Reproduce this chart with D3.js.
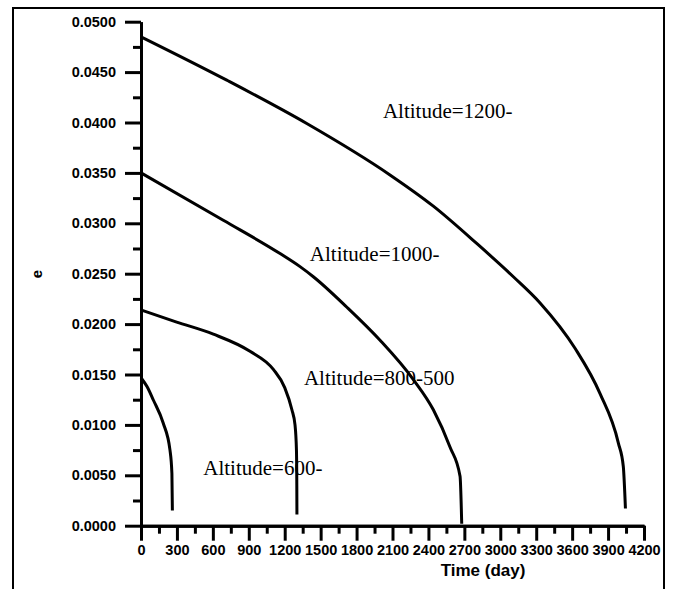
<!DOCTYPE html>
<html>
<head>
<meta charset="utf-8">
<script src="https://cdn.jsdelivr.net/npm/d3@7"></script>
<style>
  body { margin: 0; background: #fff; }
  .tick text { font-family: "Liberation Sans", Arial, sans-serif; font-weight: bold; font-size: 14.5px; fill: #000; }
  .note { font-family: "Liberation Serif", "Times New Roman", serif; font-size: 21px; fill: #000; }
</style>
</head>
<body>
<svg id="chart" width="673" height="589"></svg>
<script>
// e vs time for each altitude run (time in days)
var t600  = [0, 50, 103, 186, 242, 258, 262];
var e600  = [0.01468, 0.0138, 0.01247, 0.01016, 0.0075, 0.0052, 0.0015];

var t800  = [0, 298, 604, 910, 1105, 1200, 1260, 1286, 1298, 1301, 1302];
var e800  = [0.0214, 0.0202, 0.0190, 0.0173, 0.0155, 0.0137, 0.0115, 0.0100, 0.0075, 0.0040, 0.0011];

var t1000 = [0, 687, 1161, 1328, 1439, 1717, 1996, 2274, 2441, 2580, 2664, 2678];
var e1000 = [0.0350, 0.0303, 0.0270, 0.0257, 0.0247, 0.0217, 0.0184, 0.0145, 0.0115, 0.0078, 0.0049, 0.0002];

var t1200 = [0, 716, 1384, 2079, 2441, 2803, 3109, 3332, 3624, 3833, 3986, 4027, 4045];
var e1200 = [0.0485, 0.0442, 0.0399, 0.0348, 0.0317, 0.0280, 0.0247, 0.0221, 0.0176, 0.0131, 0.0082, 0.0059, 0.0017];

var labels = ["Altitude=1200-", "Altitude=1000-", "Altitude=800-500", "Altitude=600-"];
var labelAt = [[2020, 0.0404], [1410, 0.0263], [1360, 0.0140], [520, 0.0050]]; // [time, e] of text start

var xTicks = d3.range(0, 4201, 300);
var yTicks = d3.range(0, 0.05001, 0.005);

var svg = d3.select("#chart");

var x = d3.scaleLinear().domain([0, 4200]).range([141, 644]);
var y = d3.scaleLinear().domain([0, 0.05]).range([525.7, 21.7]);

// outer frame, open at the bottom
svg.append("path")
    .attr("d", "M13,600V8H664V600")
    .attr("fill", "none")
    .attr("stroke", "#000")
    .attr("stroke-width", 2);

var styleAxis = g => g
    .call(g => g.selectAll(".domain").attr("stroke-width", 3).attr("stroke", "#000"))
    .call(g => g.selectAll(".tick line").attr("stroke-width", 3).attr("stroke", "#000"));

// minor ticks
svg.append("g")
    .attr("transform", "translate(" + x(0) + ",0)")
    .call(d3.axisLeft(y).tickValues(d3.range(0.0025, 0.05, 0.005)).tickSize(8).tickSizeOuter(0).tickFormat(""))
    .call(styleAxis);
svg.append("g")
    .attr("transform", "translate(0," + y(0) + ")")
    .call(d3.axisBottom(x).tickValues(d3.range(150, 4200, 300)).tickSize(8).tickSizeOuter(0).tickFormat(""))
    .call(styleAxis);

// major ticks
svg.append("g")
    .attr("transform", "translate(" + x(0) + ",0)")
    .call(d3.axisLeft(y).tickValues(yTicks).tickSize(16).tickSizeOuter(0).tickPadding(9).tickFormat(d3.format(".4f")))
    .call(styleAxis);
svg.append("g")
    .attr("transform", "translate(0," + y(0) + ")")
    .call(d3.axisBottom(x).tickValues(xTicks).tickSize(15).tickSizeOuter(0).tickPadding(4).tickFormat(d3.format("d")))
    .call(styleAxis);

// axis titles
svg.append("text")
    .attr("x", 483).attr("y", 576)
    .attr("text-anchor", "middle")
    .style("font-family", "Liberation Sans, Arial, sans-serif")
    .style("font-weight", "bold").style("font-size", "17px")
    .text("Time (day)");

svg.append("text")
    .attr("transform", "translate(42,274) rotate(-90)")
    .attr("text-anchor", "middle")
    .style("font-family", "Liberation Sans, Arial, sans-serif")
    .style("font-weight", "bold").style("font-size", "15px")
    .text("e");

// curves
var series = [[t600, e600], [t800, e800], [t1000, e1000], [t1200, e1200]];
var line = d3.line()
    .x(d => x(d[0]))
    .y(d => y(d[1]))
    .curve(d3.curveMonotoneX);

svg.append("g").selectAll("path")
    .data(series.map(s => d3.zip(s[0], s[1])))
    .join("path")
      .attr("d", line)
      .attr("fill", "none")
      .attr("stroke", "#000")
      .attr("stroke-width", 3);

// annotations
svg.append("g").selectAll("text")
    .data(labels)
    .join("text")
      .attr("class", "note")
      .attr("x", (d, i) => x(labelAt[i][0]))
      .attr("y", (d, i) => y(labelAt[i][1]))
      .text(d => d);
</script>
</body>
</html>
